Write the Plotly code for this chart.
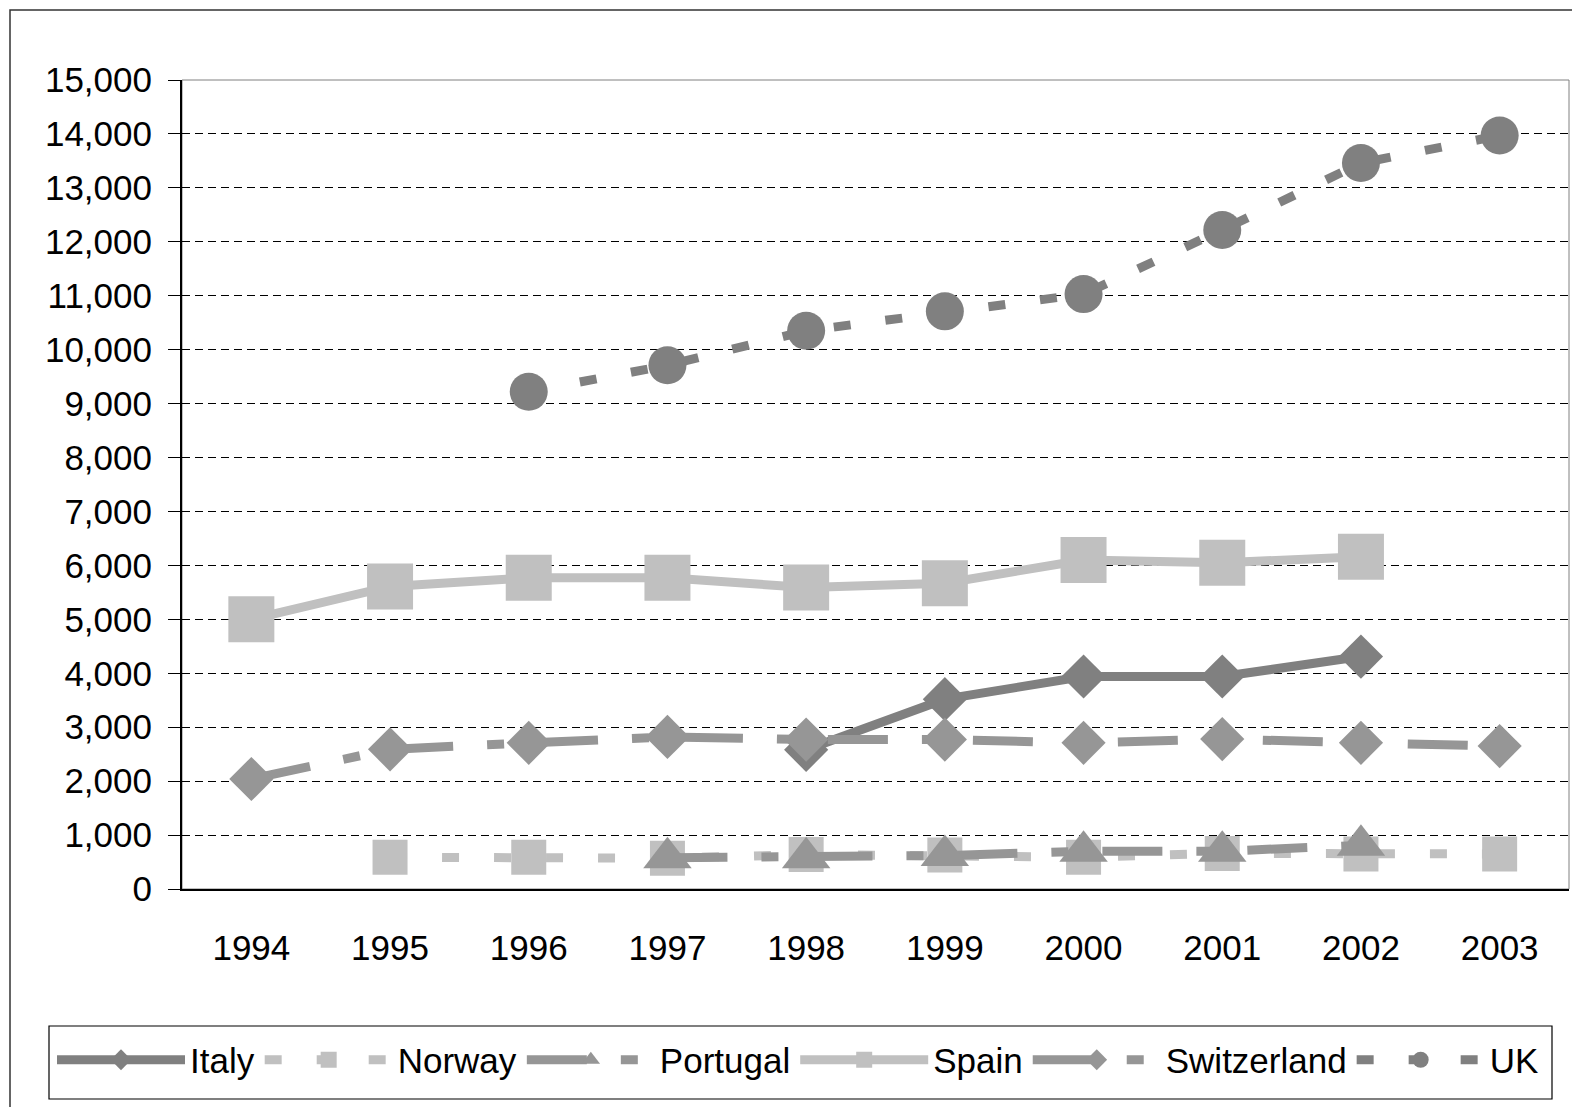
import plotly.graph_objects as go

years = ["1994", "1995", "1996", "1997", "1998", "1999", "2000", "2001", "2002", "2003"]

italy = [None, None, None, None, 2580, 3520, 3940, 3940, 4310, None]
norway = [None, 590, 590, 570, 640, 630, 590, 660, 650, 650]
portugal = [None, None, None, 580, 580, 620, 700, 700, 810, None]
spain = [5000, 5610, 5770, 5770, 5590, 5670, 6100, 6050, 6160, None]
switzerland = [2040, 2590, 2710, 2820, 2770, 2770, 2710, 2780, 2710, 2650]
uk = [None, None, 9220, 9710, 10350, 10710, 11030, 12220, 13460, 13970]

y_ticks = list(range(0, 15001, 1000))

FONT = "Liberation Sans, Arial, sans-serif"
LW = 9

series = [
    ("Italy", italy, "#808080", "solid", "diamond", 34),
    ("Norway", norway, "#C0C0C0", "17px,35px", "square", 35),
    ("Portugal", portugal, "#969696", "60px,34px,17px,34px", "triangle-up", 42),
    ("Spain", spain, "#C0C0C0", "solid", "square", 46),
    ("Switzerland", switzerland, "#969696", "60px,34px,17px,34px", "diamond", 34),
    ("UK", uk, "#808080", "17px,35px", "circle", 38),
]

fig = go.Figure()
for name, vals, color, dash, sym, size in series:
    fig.add_trace(go.Scatter(
        x=years, y=vals, name=name, mode="lines+markers",
        connectgaps=False,
        line=dict(color=color, width=LW, dash=dash),
        marker=dict(symbol=sym, size=size, color=color, line=dict(width=0)),
    ))

# page is offset by the 8px body margin of the html page
OFF = 8
W, H = 1580 - OFF, 1107 - OFF
L, R, T, B = 182 - OFF, 1569 - OFF, 80 - OFF, 889 - OFF
pw, ph = R - L, B - T

def px(x):
    return (x - OFF - L) / pw

def py(y):
    return (B - (y - OFF)) / ph

fig.update_layout(
    width=W, height=H,
    margin=dict(l=L, r=W - R, t=T, b=H - B, pad=0),
    paper_bgcolor="white", plot_bgcolor="white",
    font=dict(family=FONT, size=35, color="black"),
    showlegend=True,
    legend=dict(
        orientation="h", x=px(52), xanchor="left", y=py(1060), yanchor="middle",
        borderwidth=0, bgcolor="rgba(0,0,0,0)",
        font=dict(family=FONT, size=35, color="black"),
        itemwidth=128, tracegroupgap=0, itemsizing="trace",
    ),
    xaxis=dict(
        type="category", range=[-0.5, 9.5], showgrid=False,
        showline=True, linecolor="black", linewidth=2,
        ticks="", ticklabelstandoff=27,
        tickfont=dict(family=FONT, size=35, color="black"),
        fixedrange=True,
    ),
    yaxis=dict(
        range=[0, 15000], tickvals=y_ticks, tickformat=",",
        showgrid=True, gridcolor="black", gridwidth=1, griddash="8px,5px",
        showline=True, linecolor="black", linewidth=2,
        ticks="outside", ticklen=12, tickcolor="black", tickwidth=1,
        ticklabelstandoff=9,
        tickfont=dict(family=FONT, size=35, color="black"),
        zeroline=False, fixedrange=True,
    ),
    shapes=[
        dict(type="rect", xref="paper", yref="paper",
             x0=0, x1=1, y0=0, y1=1, line=dict(color="#808080", width=1),
             layer="below"),
        dict(type="rect", xref="paper", yref="paper",
             x0=px(10), x1=px(1600), y0=py(10), y1=py(1130),
             line=dict(color="#333333", width=1.5), layer="below"),
        dict(type="rect", xref="paper", yref="paper",
             x0=px(49), x1=px(1552), y0=py(1026), y1=py(1099),
             line=dict(color="black", width=1.2), layer="below"),
    ],
)

fig.write_html("out.html")
